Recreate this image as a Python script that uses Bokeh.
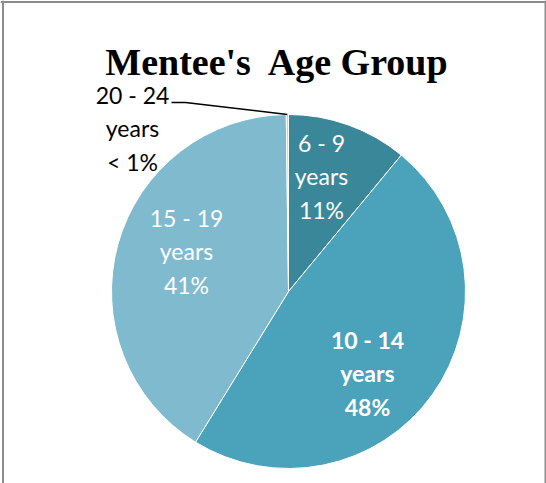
import math
from bokeh.plotting import figure
from bokeh.models import Range1d, Label, Span, ColumnDataSource
from bokeh.core.properties import value
from bokeh.embed import file_html
from bokeh.resources import INLINE

# ---- data ----
categories = ["6 - 9 years", "10 - 14 years", "15 - 19 years", "20 - 24 years"]
percents = [11.0, 47.8, 41.0, 0.2]
pct_labels = ["11%", "48%", "41%", "< 1%"]
colors = ["#3A8799", "#4AA2BB", "#7FBACF", "#B5D8E4"]
title_text = "Mentee's\u00a0 Age Group"

# ---- layout (page pixels) ----
W, H = 546, 483
OX, OY = 0, 0


def dx(px):
    return px - OX


def dy(py):
    return H - (py - OY)


CX, CY, R = dx(288), dy(291), 177

p = figure(width=W, height=H, output_backend="svg", toolbar_location=None,
           x_range=Range1d(0, W), y_range=Range1d(0, H), min_border=0,
           outline_line_color=None, background_fill_color="white")
p.axis.visible = False
p.grid.visible = False

total = sum(percents)
starts, ends, mids = [], [], []
cum = 0.0
for v in percents:
    a0 = math.pi / 2 - cum / total * 2 * math.pi
    cum += v
    a1 = math.pi / 2 - cum / total * 2 * math.pi
    starts.append(a0)
    ends.append(a1)
    mids.append((a0 + a1) / 2)

src = ColumnDataSource(dict(x=[CX] * len(percents), y=[CY] * len(percents),
                            start=starts, end=ends, color=colors, cat=categories))
p.wedge(x="x", y="y", radius=R, start_angle="start", end_angle="end",
        direction="clock", fill_color="color", line_color="white", line_width=1,
        source=src)

# labels
label_pos = [(321, 176), (367, 373), (186, 251), (132, 128)]
label_colors = ["white", "white", "white", "black"]
label_styles = ["normal", "bold", "normal", "normal"]
for cat, pl, (lx, ly), c, st in zip(categories, pct_labels, label_pos, label_colors, label_styles):
    rng, yrs = cat.rsplit(" ", 1)
    txt = f"{rng}\n{yrs}\n{pl}"
    p.text(x=[dx(lx)], y=[dy(ly)], text=[txt], text_align="center",
           text_baseline="middle", text_color=c, text_font=value("Lato"),
           text_font_size="23px", text_font_style=st, text_line_height=1.19)

# leader line for the tiny slice
m = mids[3]
ex, ey = CX + R * math.cos(m), CY + R * math.sin(m)
p.line(x=[dx(171), dx(185), ex], y=[dy(102), dy(102), ey], line_color="black", line_width=1.5)

# title
p.add_layout(Label(x=dx(277), y=dy(61), text=title_text, text_align="center",
                   text_baseline="middle", text_font="Liberation Serif",
                   text_font_size="38px", text_font_style="bold", text_color="black"))

# frame borders
for loc in (dx(2.5), dx(545)):
    p.add_layout(Span(location=loc, dimension="height", line_color="#8C8C8C", line_width=2))
p.add_layout(Span(location=dy(1.5), dimension="width", line_color="#8C8C8C", line_width=2))

open("out.html", "w").write(file_html(p, INLINE))
